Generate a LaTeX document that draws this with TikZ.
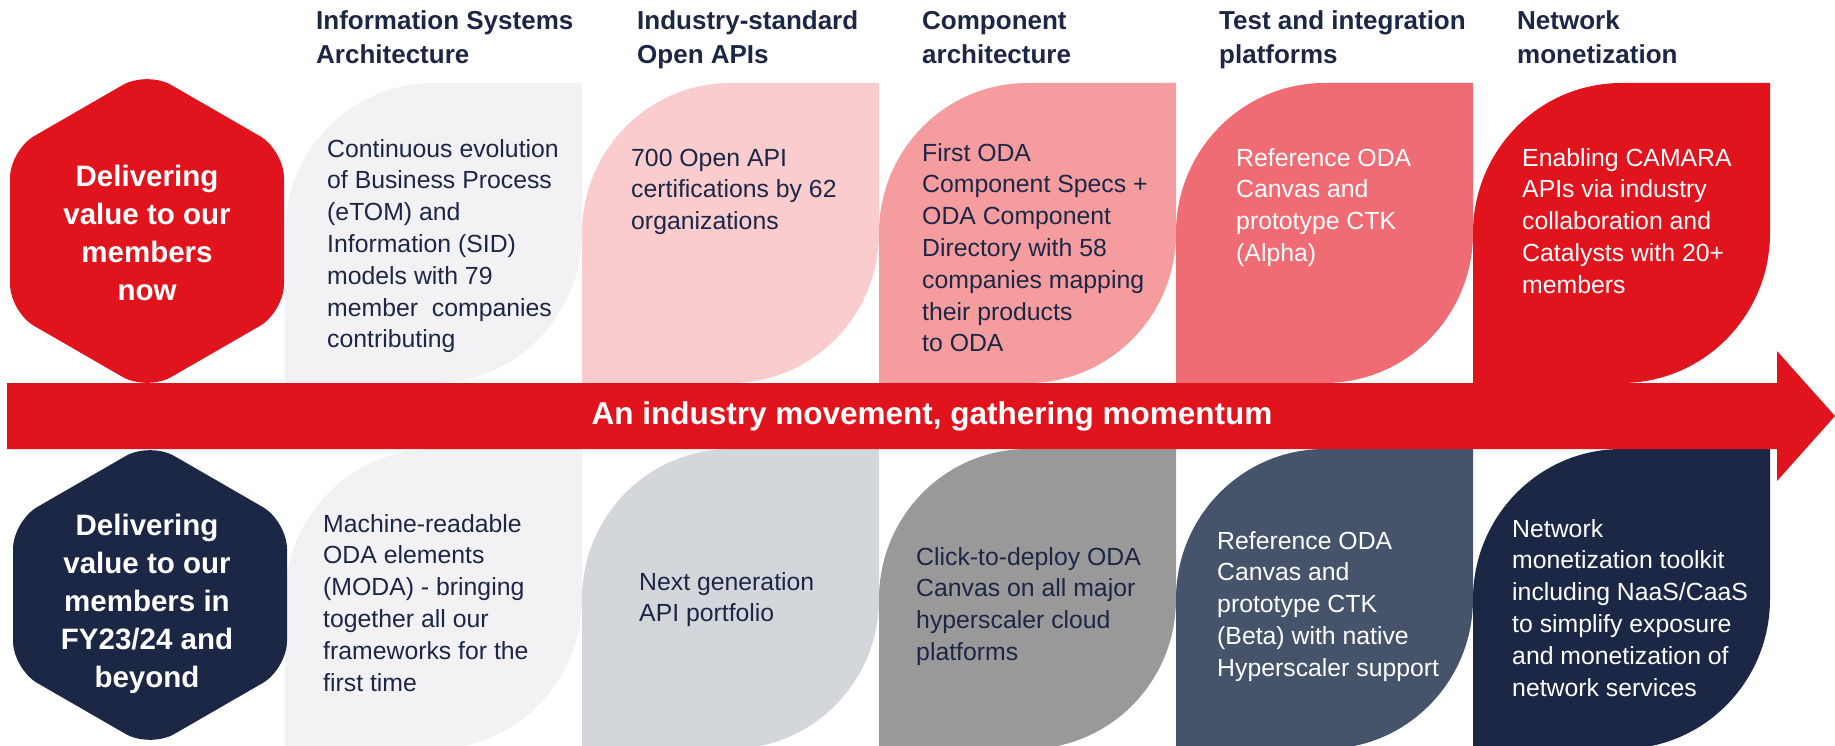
\documentclass[tikz,border=0pt]{standalone}
\usepackage{fontspec}
\setmainfont{Liberation Sans}
\usetikzlibrary{positioning}
\definecolor{tmred}{HTML}{E1141E}
\definecolor{tmnavy}{HTML}{1C2746}
\definecolor{pinkA}{HTML}{FACCCE}
\definecolor{pinkB}{HTML}{F59C9F}
\definecolor{pinkC}{HTML}{F06C74}
\definecolor{paleA}{HTML}{F2F2F4}
\definecolor{greyA}{HTML}{D3D6DB}
\definecolor{greyB}{HTML}{999999}
\definecolor{slateA}{HTML}{45546B}
\tikzset{x=1pt, y=1pt,
  heading/.style={anchor=base west, align=left, inner sep=0pt, text=tmnavy,
    font=\fontsize{26}{34}\selectfont\bfseries},
  leaftext/.style={anchor=base west, align=left, inner sep=0pt, text=tmnavy,
    font=\fontsize{24.8}{31.8}\selectfont},
  hextext/.style={anchor=base, align=center, inner sep=0pt, text=white,
    font=\fontsize{29.5}{38.2}\selectfont\bfseries}}
%% leaf: left x, top y (measured downwards), colour
\newcommand{\leaf}[3]{\fill[#3] (#1,{-(#2+300)}) -- (#1,{-(#2+150)})
  arc[start angle=180,end angle=90,x radius=148.5,y radius=150] -- ++(148.5,0)
  -- ++(0,-150) arc[start angle=0,end angle=-90,x radius=148.5,y radius=150] -- cycle;}
\begin{document}
\begin{tikzpicture}
  \useasboundingbox (0,0) rectangle (1835,-746);
%% top row of leaves
  \leaf{285}{83}{paleA}
  \leaf{582}{83}{pinkA}
  \leaf{879}{83}{pinkB}
  \leaf{1176}{83}{pinkC}
  \leaf{1473}{83}{tmred}
%% bottom row of leaves
  \leaf{285}{449}{paleA}
  \leaf{582}{449}{greyA}
  \leaf{879}{449}{greyB}
  \leaf{1176}{449}{slateA}
  \leaf{1473}{449}{tmnavy}
%% hexagons
  \fill[tmred, rounded corners=28] (147,-71) -- (284,-150) -- (284,-312) -- (147,-391)
    -- (10,-312) -- (10,-150) -- cycle;
  \fill[tmnavy, rounded corners=28] (150,-442) -- (287,-521) -- (287,-669) -- (150,-748)
    -- (13,-669) -- (13,-521) -- cycle;
%% arrow
  \fill[tmred] (7,-383) -- (1777,-383) -- (1777,-351) -- (1835,-416) -- (1777,-481)
    -- (1777,-449) -- (7,-449) -- cycle;
  \node[text=white, font=\fontsize{31.5}{36}\selectfont\bfseries, inner sep=0pt] (banner)
    at (932,-416) {An industry movement, gathering momentum};
%% hexagon texts (anchored at the last baseline)
  \node[hextext] (hexnow) at (147,-300.6) {Delivering\\value to our\\members\\now};
  \node[hextext] (hexlater) at (147,-687.8) {Delivering\\value to our\\members in\\FY23/24 and\\beyond};
%% headings
  \node[heading] (headisa) at (316,-64) {Information Systems\\Architecture};
  \node[heading] (headapi) at (637,-64) {Industry-standard\\Open APIs};
  \node[heading] (headcomp) at (922,-64) {Component\\architecture};
  \node[heading] (headtest) at (1219,-64) {Test and integration\\platforms};
  \node[heading] (headnet) at (1517,-64) {Network\\monetization};
%% top texts
  \node[leaftext] (topisa) at (327,-347.8) {Continuous evolution\\of Business Process\\(eTOM) and\\Information (SID)\\models with 79\\member\ \ companies\\contributing};
  \node[leaftext] (topapi) at (631,-229.6) {700 Open API\\certifications by 62\\organizations};
  \node[leaftext] (topcomp) at (922,-351.8) {First ODA\\Component Specs +\\ODA Component\\Directory with 58\\companies mapping\\their products\\to ODA};
  \node[leaftext, text=white] (toptest) at (1236,-261.4) {Reference ODA\\Canvas and\\prototype CTK\\(Alpha)};
  \node[leaftext, text=white] (topnet) at (1522,-293.2) {Enabling CAMARA\\APIs via industry\\collaboration and\\Catalysts with 20+\\members};
%% bottom texts
  \node[leaftext] (botisa) at (323,-691) {Machine-readable\\ODA elements\\(MODA) - bringing\\together all our\\frameworks for the\\first time};
  \node[leaftext] (botapi) at (639,-621.8) {Next generation\\API portfolio};
  \node[leaftext] (botcomp) at (916,-660.4) {Click-to-deploy ODA\\Canvas on all major\\hyperscaler cloud\\platforms};
  \node[leaftext, text=white] (bottest) at (1217,-676.2) {Reference ODA\\Canvas and\\prototype CTK\\(Beta) with native\\Hyperscaler support};
  \node[leaftext, text=white] (botnet) at (1512,-696) {Network\\monetization toolkit\\including NaaS/CaaS\\to simplify exposure\\and monetization of\\network services};
\end{tikzpicture}
\end{document}
